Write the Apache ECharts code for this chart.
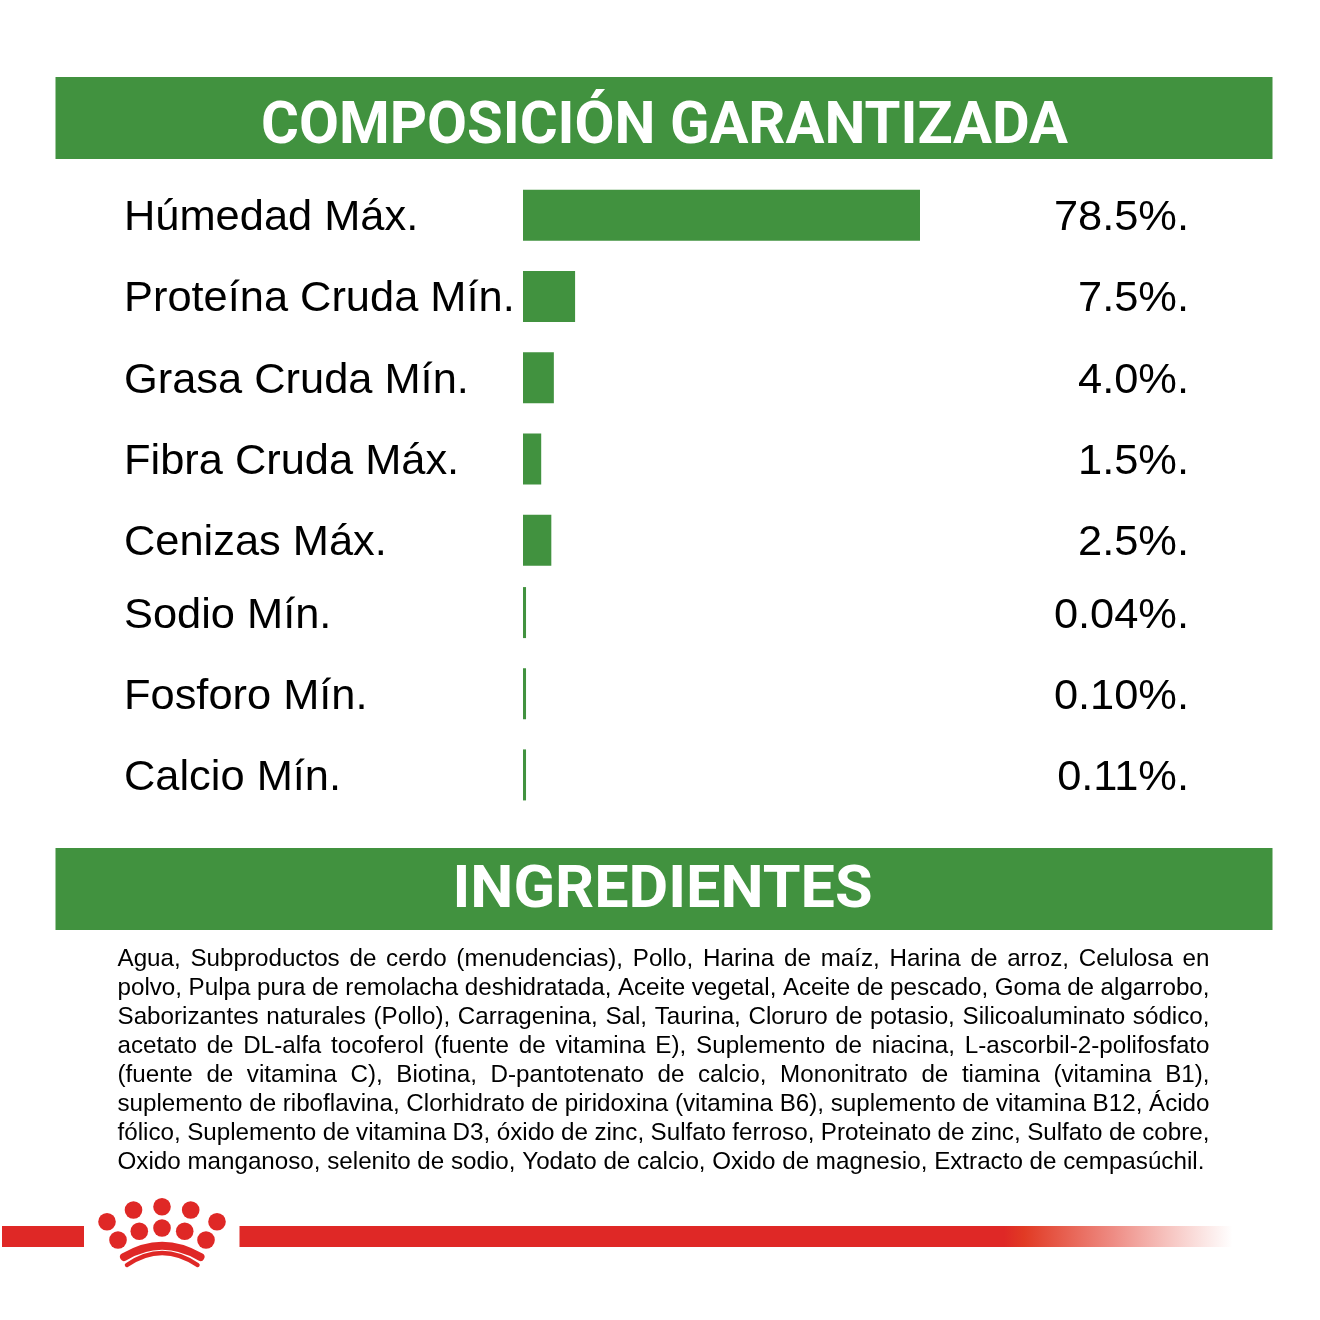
<!DOCTYPE html>
<html><head><meta charset="utf-8">
<style>html,body{margin:0;padding:0;background:#fff}#c{width:1320px;height:1320px}</style>
<script src="https://cdn.jsdelivr.net/npm/echarts@6/dist/echarts.min.js"></script></head>
<body><div id="c"></div>
<script>
const headings = ['COMPOSICIÓN GARANTIZADA', 'INGREDIENTES'];
const upperNames = ['Húmedad Máx.', 'Proteína Cruda Mín.', 'Grasa Cruda Mín.', 'Fibra Cruda Máx.', 'Cenizas Máx.'];
const upperLabels = ['78.5%.', '7.5%.', '4.0%.', '1.5%.', '2.5%.'];
// drawn bar lengths (they are not proportional to the printed figures)
const upperLengths = [78.5, 10.3, 6.1, 3.6, 5.6];
const lowerNames = ['Sodio Mín.', 'Fosforo Mín.', 'Calcio Mín.'];
const lowerLabels = ['0.04%.', '0.10%.', '0.11%.'];
const lowerLengths = [0.6, 0.6, 0.6];
const ingredientLines = [
 'Agua, Subproductos de cerdo (menudencias), Pollo, Harina de maíz, Harina de arroz, Celulosa en',
 'polvo, Pulpa pura de remolacha deshidratada, Aceite vegetal, Aceite de pescado, Goma de algarrobo,',
 'Saborizantes naturales (Pollo), Carragenina, Sal, Taurina, Cloruro de potasio, Silicoaluminato sódico,',
 'acetato de DL-alfa tocoferol (fuente de vitamina E), Suplemento de niacina, L-ascorbil-2-polifosfato',
 '(fuente de vitamina C), Biotina, D-pantotenato de calcio, Mononitrato de tiamina (vitamina B1),',
 'suplemento de riboflavina, Clorhidrato de piridoxina (vitamina B6), suplemento de vitamina B12, Ácido',
 'fólico, Suplemento de vitamina D3, óxido de zinc, Sulfato ferroso, Proteinato de zinc, Sulfato de cobre,',
 'Oxido manganoso, selenito de sodio, Yodato de calcio, Oxido de magnesio, Extracto de cempasúchil.'
];

const GREEN = '#41923F', RED = '#DF2826';
const BODY = '"Liberation Sans", Arial, sans-serif';
const HEAD = 'Roboto, sans-serif';
const ctx = document.createElement('canvas').getContext('2d');
function widthOf(t, font) { ctx.font = font; return ctx.measureText(t).width; }

const graphic = [];
function band(y, text, cx, baseY, targetW) {
  graphic.push({type:'rect', shape:{x:55.5, y:y, width:1217, height:82}, style:{fill:GREEN}, silent:true});
  const font = 'bold 60px ' + HEAD;
  const k = targetW / widthOf(text, font);
  graphic.push({type:'text', x:cx, y:baseY, scaleX:k, silent:true,
    style:{text:text, fill:'#fff', font:font, textAlign:'center', textVerticalAlign:'bottom'}});
}
band(77, headings[0], 664.5, 158, 807);
band(848, headings[1], 662.5, 922, 420);

// justified ingredient paragraph
const bodyFont = '24.2px ' + BODY;
ingredientLines.forEach((line, i) => {
  const y = 959 + i * 29;
  if (i === ingredientLines.length - 1) {
    graphic.push({type:'text', x:117.5, y:y, silent:true,
      style:{text:line, fill:'#000', font:bodyFont, textAlign:'left', textVerticalAlign:'middle'}});
    return;
  }
  const words = line.split(' ');
  const sum = words.reduce((a, w) => a + widthOf(w, bodyFont), 0);
  const gap = (1209.5 - 117.5 - sum) / (words.length - 1);
  let x = 117.5;
  words.forEach(w => {
    graphic.push({type:'text', x:x, y:y, silent:true,
      style:{text:w, fill:'#000', font:bodyFont, textAlign:'left', textVerticalAlign:'middle'}});
    x += widthOf(w, bodyFont) + gap;
  });
});

// footer rule
graphic.push({type:'rect', shape:{x:2, y:1226, width:82, height:21}, style:{fill:RED}, silent:true});
graphic.push({type:'rect', shape:{x:239.5, y:1226, width:993, height:21}, silent:true, style:{fill:{
  type:'linear', x:0, y:0, x2:1, y2:0, colorStops:[
    {offset:0, color:RED}, {offset:0.77, color:RED}, {offset:0.79, color:'#E13A24'},
    {offset:0.88, color:'#EE8C84'}, {offset:1, color:'rgba(255,255,255,0.9)'}]}}});
// crown
[[107,1221.7],[133.5,1210],[162,1206.7],[190.7,1210],[217,1221.7],
 [118,1240],[139.3,1231.3],[162,1228],[184.7,1231.3],[206,1240]].forEach(p => {
  graphic.push({type:'circle', shape:{cx:p[0], cy:p[1], r:8.8}, style:{fill:RED}, silent:true});
});
graphic.push({type:'bezierCurve', shape:{x1:124,y1:1257,x2:200.5,y2:1257,cpx1:162,cpy1:1234.4}, silent:true,
  style:{stroke:RED, lineWidth:8, lineCap:'round', fill:'none'}});
graphic.push({type:'bezierCurve', shape:{x1:127,y1:1265,x2:197.5,y2:1265,cpx1:162,cpy1:1241}, silent:true,
  style:{stroke:RED, lineWidth:4.5, lineCap:'round', fill:'none'}});

const AXIS_MAX = 666 / (397 / 78.5);
const GRID_L = 523, GRID_W = 666;
const grids = [
  {left:GRID_L, width:GRID_W, top:174.5, height:406.5},
  {left:GRID_L, width:GRID_W, top:572, height:243.5}
];
function labelStyle(extra) {
  return Object.assign({interval:0, color:'#000', fontFamily:BODY, fontSize:43.4, verticalAlign:'top', lineHeight:6}, extra);
}
function yPair(names, labels, idx) {
  const base = {type:'category', inverse:true, gridIndex:idx,
    axisLine:{show:false}, axisTick:{show:false}, splitLine:{show:false}};
  return [
    Object.assign({}, base, {position:'left', data:names,
      axisLabel:labelStyle({align:'left', margin:GRID_L - 124})}),
    Object.assign({}, base, {position:'right', data:labels,
      axisLabel:labelStyle({align:'right', margin:0})})
  ];
}
const xAxis = [0,1].map(i => ({type:'value', gridIndex:i, min:0, max:AXIS_MAX, show:false}));
const yAxis = yPair(upperNames, upperLabels, 0).concat(yPair(lowerNames, lowerLabels, 1));
const series = [
  {type:'bar', xAxisIndex:0, yAxisIndex:0, data:upperLengths, barWidth:51, itemStyle:{color:GREEN}, silent:true, animation:false},
  {type:'bar', xAxisIndex:1, yAxisIndex:2, data:lowerLengths, barWidth:51, itemStyle:{color:GREEN}, silent:true, animation:false}
];
const chart = echarts.init(document.getElementById('c'), null, {renderer:'canvas', width:1320, height:1320});
chart.setOption({backgroundColor:'#fff', animation:false, grid:grids, xAxis, yAxis, series, graphic});
</script></body></html>
